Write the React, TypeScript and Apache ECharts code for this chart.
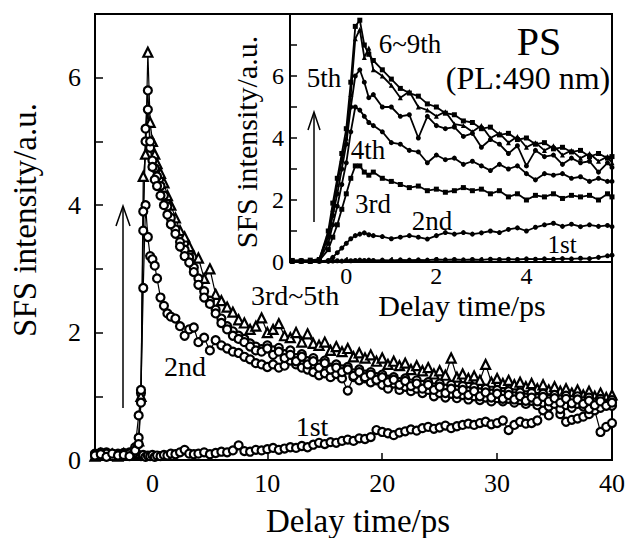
import React, { useEffect, useRef } from 'react';
import * as echarts from 'echarts';

// ---------- Main plot data (Delay time/ps, SFS intensity/a.u.) ----------
const X_MAIN = [-5, -4.5, -4, -3.5, -3, -2.5, -2, -1.5,
  -1.2, -1, -0.8, -0.6, -0.4, -0.2, 0, 0.2, 0.4, 0.7, 1, 1.3, 1.6, 2, 2.4, 2.8, 3.2, 3.6,
  4, 4.5, 5, 5.5, 6, 6.5, 7, 7.5, 8, 8.5, 9, 9.5,
  10, 10.5, 11, 11.5, 12, 12.5, 13, 13.5, 14, 14.5, 15, 15.5,
  16, 16.5, 17, 17.5, 18, 18.5, 19, 19.5, 20, 20.5, 21, 21.5,
  22, 22.5, 23, 23.5, 24, 24.5, 25, 25.5, 26, 26.5, 27, 27.5,
  28, 28.5, 29, 29.5, 30, 30.5, 31, 31.5, 32, 32.5, 33, 33.5,
  34, 34.5, 35, 35.5, 36, 36.5, 37, 37.5, 38, 38.5, 39, 39.5, 40];

const MAIN_1ST = [0.1, 0.08, 0.12, 0.07, 0.1, 0.09, 0.12, 0.18,
  0.08, 0.06, 0.08, 0.05, 0.07, 0.06, 0.08, 0.05, 0.07, 0.06, 0.08, 0.07, 0.1, 0.09, 0.12, 0.16, 0.1, 0.09,
  0.1, 0.12, 0.09, 0.11, 0.13, 0.12, 0.15, 0.23, 0.14, 0.13, 0.16, 0.15,
  0.17, 0.19, 0.16, 0.18, 0.2, 0.19, 0.22, 0.2, 0.24, 0.27, 0.25, 0.28,
  0.27, 0.3, 0.32, 0.3, 0.34, 0.33, 0.36, 0.47, 0.44, 0.42, 0.39, 0.43,
  0.45, 0.48, 0.46, 0.5, 0.52, 0.49, 0.51, 0.54, 0.5, 0.53, 0.55, 0.57,
  0.55, 0.58, 0.6, 0.56, 0.58, 0.62, 0.47, 0.55, 0.6, 0.57, 0.58, 0.62,
  0.78, 0.7, 0.92, 0.72, 0.6, 0.63, 0.65, 0.68, 0.72, 0.78, 0.44, 0.52, 0.58];

const MAIN_2ND = [0.08, 0.12, 0.07, 0.1, 0.08, 0.11, 0.07, 0.2,
  0.7, 1.05, 2.7, 4.0, 3.5, 3.2, 3.15, 3.05, 2.85, 2.55, 2.42, 2.3, 2.25, 2.22, 2.1, 1.95, 2.05, 2.08,
  1.85, 1.92, 1.72, 1.88, 1.8, 1.75, 1.7, 1.68, 1.62, 1.58, 1.52, 1.5,
  1.46, 1.5, 1.45, 1.48, 1.56, 1.5, 1.45, 1.42, 1.38, 1.33, 1.36, 1.3,
  1.35, 1.28, 1.09, 1.3, 1.25, 1.28, 1.22, 1.25, 1.18, 1.12, 1.2, 1.1,
  1.15, 1.08, 1.12, 1.05, 1.1, 1.0, 1.05, 0.98, 1.04, 0.97, 1.02, 0.95,
  1.0, 0.94, 0.98, 0.92, 0.97, 0.92, 0.96, 0.9, 0.94, 0.88, 0.93, 0.86,
  0.9, 0.84, 0.88, 0.8, 0.86, 0.82, 0.88, 0.84, 0.8, 0.86, 0.82, 0.88, 0.85];

const MAIN_3RD = [0.09, 0.07, 0.1, 0.06, 0.09, 0.07, 0.1, 0.12,
  0.35, 1.1, 3.9, 5.0, 5.5, 4.9, 4.7, 4.58, 4.45, 4.3, 4.15, 3.98, 3.8, 3.62, 3.42, 3.3, 3.18, 3.02,
  2.85, 2.65, 2.5, 2.36, 2.22, 2.1, 2.02, 1.95, 1.9, 1.83, 1.78, 1.74,
  1.8, 1.72, 1.76, 1.66, 1.72, 1.6, 1.66, 1.55, 1.6, 1.5, 1.56, 1.45,
  1.5, 1.42, 1.46, 1.36, 1.42, 1.34, 1.38, 1.3, 1.34, 1.26, 1.3, 1.22,
  1.28, 1.2, 1.25, 1.18, 1.22, 1.14, 1.2, 1.12, 1.18, 1.1, 1.16, 1.08,
  1.14, 1.06, 1.12, 1.04, 1.1, 1.02, 1.08, 1.0, 1.06, 0.98, 1.05, 0.97,
  1.04, 0.96, 1.02, 0.95, 1.01, 0.94, 1.0, 0.92, 0.98, 0.9, 0.96, 0.88, 0.94];

const MAIN_4TH = [0.06, 0.1, 0.08, 0.09, 0.06, 0.1, 0.08, 0.1,
  0.3, 1.0, 4.45, 4.8, 6.4, 5.3, 5.0, 4.8, 4.65, 4.5, 4.35, 4.15, 4.0, 3.8, 3.6, 3.5, 3.35, 3.2,
  3.17, 2.85, 3.0, 2.6, 2.5, 2.4, 2.32, 2.2, 2.15, 2.05, 2.1, 2.23,
  2.0, 2.05, 2.14, 1.95, 1.92, 2.0, 1.85, 1.98, 1.83, 1.8, 1.85, 1.72,
  1.78, 1.7, 1.75, 1.62, 1.68, 1.6, 1.65, 1.55, 1.6, 1.5, 1.55, 1.48,
  1.52, 1.42, 1.48, 1.4, 1.45, 1.35, 1.4, 1.33, 1.6, 1.3, 1.35, 1.28,
  1.32, 1.25, 1.5, 1.22, 1.28, 1.2, 1.25, 1.18, 1.22, 1.15, 1.2, 1.12,
  1.18, 1.1, 1.15, 1.08, 1.12, 1.05, 1.1, 1.02, 1.08, 1.0, 1.05, 0.98, 1.02];

const MAIN_5TH = [0.07, 0.09, 0.05, 0.1, 0.07, 0.08, 0.06, 0.15,
  0.25, 0.9, 3.6, 5.2, 5.8, 5.0, 4.6, 4.4, 4.3, 4.15, 4.0, 3.85, 3.7, 3.55, 3.35, 3.2, 3.1, 2.95,
  2.75, 2.55, 2.45, 2.3, 2.15, 2.05, 1.95, 1.9, 1.85, 1.78, 1.72, 1.7,
  1.75, 1.65, 1.7, 1.6, 1.65, 1.55, 1.62, 1.5, 1.55, 1.45, 1.52, 1.42,
  1.45, 1.38, 1.42, 1.32, 1.38, 1.3, 1.34, 1.26, 1.3, 1.22, 1.26, 1.18,
  1.24, 1.16, 1.2, 1.12, 1.18, 1.1, 1.15, 1.05, 1.12, 1.04, 1.1, 1.02,
  1.08, 1.0, 1.06, 0.98, 1.04, 0.96, 1.02, 0.95, 1.0, 0.93, 0.98, 0.92,
  0.99, 0.92, 0.97, 0.9, 0.96, 0.89, 0.95, 0.88, 0.93, 0.86, 0.92, 0.85, 0.9];

const MAIN_X_LABELS = [0, 10, 20, 30, 40];
const MAIN_X_TICKS = [0, 10, 20, 30];
const MAIN_Y_LABELS = [0, 2, 4, 6];

// ---------- Inset data (PS, PL:490 nm) ----------
const X_INSET = [-1.2, -1.0, -0.8, -0.6, -0.4, -0.3, -0.2, -0.1, 0, 0.1, 0.2, 0.3, 0.4, 0.5, 0.6,
  0.8, 1.0, 1.2, 1.4, 1.6, 1.8, 2.0, 2.2, 2.4, 2.6, 2.8, 3.0, 3.2, 3.4, 3.6, 3.8,
  4.0, 4.2, 4.4, 4.6, 4.8, 5.0, 5.2, 5.4, 5.6, 5.8, 5.9];

const IN_69A = [0.05, 0.03, 0.06, 0.08, 1.0, 1.9, 2.7, 3.5, 4.3, 5.8, 7.6, 7.8, 7.0, 6.7, 6.5,
  6.2, 5.9, 5.6, 5.45, 5.35, 5.1, 5.0, 4.8, 4.75, 4.55, 4.5, 4.3, 4.35, 4.1, 4.15, 3.95,
  4.0, 3.8, 3.85, 3.65, 3.7, 3.55, 3.6, 3.4, 3.5, 3.35, 3.4];
const IN_69B = [0.04, 0.06, 0.03, 0.1, 0.9, 1.7, 2.5, 3.3, 4.0, 5.4, 7.2, 7.5, 6.6, 6.9, 6.2,
  6.0, 5.7, 5.3, 5.5, 5.0, 4.9, 4.7, 4.85, 4.45, 4.4, 4.2, 4.4, 4.0, 4.15, 3.85, 4.05,
  3.7, 3.85, 3.6, 3.75, 3.45, 3.6, 3.35, 3.5, 3.25, 3.4, 3.2];
const IN_5TH = [0.03, 0.05, 0.04, 0.06, 0.8, 1.5, 2.2, 3.0, 3.8, 5.0, 6.0, 6.2, 5.8, 5.3, 5.4,
  5.0, 5.0, 4.7, 4.75, 4.0, 4.7, 4.4, 4.3, 4.35, 4.05, 4.15, 3.7, 3.95, 3.8, 3.5, 3.75,
  3.1, 3.6, 3.4, 3.45, 3.15, 3.35, 3.2, 3.25, 2.9, 3.2, 3.05];
const IN_4TH = [0.02, 0.04, 0.03, 0.05, 0.6, 1.2, 1.8, 2.5, 3.2, 4.2, 5.0, 4.9, 4.7, 4.5, 4.4,
  4.2, 3.85, 3.8, 3.6, 3.55, 3.2, 3.45, 3.3, 3.35, 3.15, 3.25, 3.1, 2.95, 3.15, 3.0, 3.1,
  2.85, 2.65, 2.85, 2.8, 2.85, 2.7, 2.75, 2.6, 2.7, 2.6, 2.6];
const IN_3RD = [0.02, 0.03, 0.02, 0.04, 0.4, 0.8, 1.2, 1.7, 2.2, 2.7, 3.1, 3.1, 2.9, 2.8, 2.9,
  2.7, 2.6, 2.5, 2.4, 2.45, 2.3, 2.35, 2.25, 2.3, 2.4, 2.3, 2.35, 2.2, 2.3, 2.1, 2.2,
  2.0, 2.15, 2.1, 2.2, 2.05, 2.15, 2.1, 2.15, 2.0, 2.2, 2.1];
const IN_2ND = [0.02, 0.02, 0.03, 0.02, 0.05, 0.15, 0.3, 0.45, 0.6, 0.75, 0.85, 0.9, 0.94, 0.88, 0.85,
  0.82, 0.75, 0.8, 0.85, 0.8, 0.74, 0.85, 0.95, 0.9, 0.95, 0.9, 0.94, 1.0, 0.95, 1.05, 1.1,
  1.0, 1.12, 1.2, 1.25, 1.15, 1.22, 1.14, 1.2, 1.15, 1.18, 1.14];
const IN_1ST = [0.02, 0.03, 0.02, 0.03, 0.02, 0.03, 0.04, 0.03, 0.05, 0.04, 0.05, 0.06, 0.05, 0.06, 0.05,
  0.06, 0.05, 0.07, 0.06, 0.07, 0.06, 0.08, 0.07, 0.08, 0.07, 0.08, 0.07, 0.09, 0.08, 0.09, 0.08,
  0.1, 0.09, 0.1, 0.09, 0.11, 0.1, 0.12, 0.11, 0.15, 0.2, 0.22];

const IN_X_LABELS = [0, 2, 4];
const IN_X_TICKS = [0, 1, 2, 3, 4, 5];
const IN_Y_LABELS = [0, 2, 4, 6];

const FONT = '"Liberation Serif", "Times New Roman", serif';

const zip = (xs: number[], ys: number[]) => xs.map((x, i) => [x, ys[i]]);

function mainSeries(name: string, ys: number[], symbol: string, size: number) {
  return {
    name,
    type: 'line',
    xAxisIndex: 0,
    yAxisIndex: 0,
    data: zip(X_MAIN, ys),
    symbol,
    symbolSize: size,
    showAllSymbol: true,
    lineStyle: { color: '#000', width: 1.2 },
    itemStyle: { color: '#fff', borderColor: '#000', borderWidth: 2.2 },
    z: 3,
  };
}

function insetSeries(name: string, ys: number[], symbol: string) {
  return {
    name,
    type: 'line',
    xAxisIndex: 1,
    yAxisIndex: 1,
    data: zip(X_INSET, ys),
    symbol,
    symbolSize: 5,
    showAllSymbol: true,
    lineStyle: { color: '#000', width: 1.8 },
    itemStyle: { color: '#000' },
    z: 5,
  };
}

function label(text: string, x: number, y: number, size: number, rotation = 0) {
  return {
    type: 'text',
    x,
    y,
    rotation,
    z: 20,
    style: {
      text,
      font: `${size}px ${FONT}`,
      fill: '#000',
      align: 'center',
      verticalAlign: 'middle',
      textAlign: 'center',
      textVerticalAlign: 'middle',
    },
  };
}

export default function App() {
  const ref = useRef<HTMLDivElement>(null);

  useEffect(() => {
    if (!ref.current) return;
    const chart = echarts.init(ref.current, null, { renderer: 'svg' });
    const option: any = {
      animation: false,
      backgroundColor: '#fff',
      grid: [
        { left: 95, top: 14, right: 18, bottom: 78, show: true, borderColor: '#000', borderWidth: 2, backgroundColor: 'transparent' },
        { left: 290, top: 14, right: 18, bottom: 276, show: true, borderColor: '#000', borderWidth: 2, backgroundColor: '#fff', z: 4 },
      ],
      xAxis: [
        {
          type: 'value', gridIndex: 0, min: -5, max: 40,
          axisLine: { show: true, onZero: false, lineStyle: { color: '#000', width: 2 } },
          axisTick: { show: true, inside: true, length: 7, customValues: MAIN_X_TICKS, lineStyle: { color: '#000', width: 1.5 } },
          axisLabel: { customValues: MAIN_X_LABELS, fontSize: 26, fontFamily: FONT, color: '#000', margin: 10 },
          splitLine: { show: false },
        },
        {
          type: 'value', gridIndex: 1, min: -1.25, max: 5.9,
          axisLine: { show: true, onZero: false, lineStyle: { color: '#000', width: 2 } },
          axisTick: { show: true, inside: true, length: 5, customValues: IN_X_TICKS, lineStyle: { color: '#000', width: 1.5 } },
          axisLabel: { customValues: IN_X_LABELS, fontSize: 24, fontFamily: FONT, color: '#000', margin: 2 },
          splitLine: { show: false },
          z: 6,
        },
      ],
      yAxis: [
        {
          type: 'value', gridIndex: 0, min: 0, max: 7, interval: 1,
          axisLine: { show: true, onZero: false, lineStyle: { color: '#000', width: 2 } },
          axisTick: { show: true, inside: true, length: 8, lineStyle: { color: '#000', width: 1.5 } },
          axisLabel: { customValues: MAIN_Y_LABELS, fontSize: 26, fontFamily: FONT, color: '#000', margin: 14 },
          splitLine: { show: false },
        },
        {
          type: 'value', gridIndex: 1, min: 0, max: 8, interval: 1,
          axisLine: { show: true, onZero: false, lineStyle: { color: '#000', width: 2 } },
          axisTick: { show: true, inside: true, length: 7, lineStyle: { color: '#000', width: 1.5 } },
          axisLabel: { customValues: IN_Y_LABELS, fontSize: 24, fontFamily: FONT, color: '#000', margin: 6 },
          splitLine: { show: false },
          z: 6,
        },
      ],
      series: [
        mainSeries('1st', MAIN_1ST, 'circle', 8),
        mainSeries('2nd', MAIN_2ND, 'circle', 8),
        mainSeries('4th', MAIN_4TH, 'triangle', 9),
        mainSeries('3rd', MAIN_3RD, 'circle', 8),
        mainSeries('5th', MAIN_5TH, 'circle', 8),
        insetSeries('1st (inset)', IN_1ST, 'circle'),
        insetSeries('2nd (inset)', IN_2ND, 'circle'),
        insetSeries('3rd (inset)', IN_3RD, 'rect'),
        insetSeries('4th (inset)', IN_4TH, 'circle'),
        insetSeries('5th (inset)', IN_5TH, 'circle'),
        insetSeries('6~9th A (inset)', IN_69B, 'triangle'),
        insetSeries('6~9th B (inset)', IN_69A, 'rect'),
      ],
      graphic: [
        // axis titles
        label('SFS intensity/a.u.', 25, 220, 33, Math.PI / 2),
        label('Delay time/ps', 358, 521, 33),
        label('SFS intensity/a.u.', 246, 142, 30, Math.PI / 2),
        label('Delay time/ps', 462, 305, 30),
        // annotations main
        label('3rd~5th', 295, 295, 28),
        label('2nd', 185, 366, 28),
        label('1st', 312, 426, 28),
        // annotations inset
        label('6~9th', 410, 44, 27),
        label('PS', 539, 41, 40),
        label('(PL:490 nm)', 528, 78, 32),
        label('5th', 324, 78, 27),
        label('4th', 368, 150, 27),
        label('3rd', 373, 204, 27),
        label('2nd', 432, 221, 27),
        label('1st', 562, 244, 25),
        // arrows
        { type: 'line', z: 20, shape: { x1: 123, y1: 408, x2: 123, y2: 207 }, style: { stroke: '#000', lineWidth: 1.5 } },
        { type: 'polyline', z: 20, shape: { points: [[116, 226], [123, 206], [130, 226]] }, style: { stroke: '#000', lineWidth: 1.5, fill: 'none' } },
        { type: 'line', z: 20, shape: { x1: 314, y1: 222, x2: 314, y2: 113 }, style: { stroke: '#000', lineWidth: 1.5 } },
        { type: 'polyline', z: 20, shape: { points: [[308, 130], [314, 112], [320, 130]] }, style: { stroke: '#000', lineWidth: 1.5, fill: 'none' } },
      ],
    };
    chart.setOption(option);
    return () => chart.dispose();
  }, []);

  return (
    <div
      ref={ref}
      style={{ position: 'fixed', left: 0, top: 0, width: 630, height: 538, background: '#fff' }}
    />
  );
}
